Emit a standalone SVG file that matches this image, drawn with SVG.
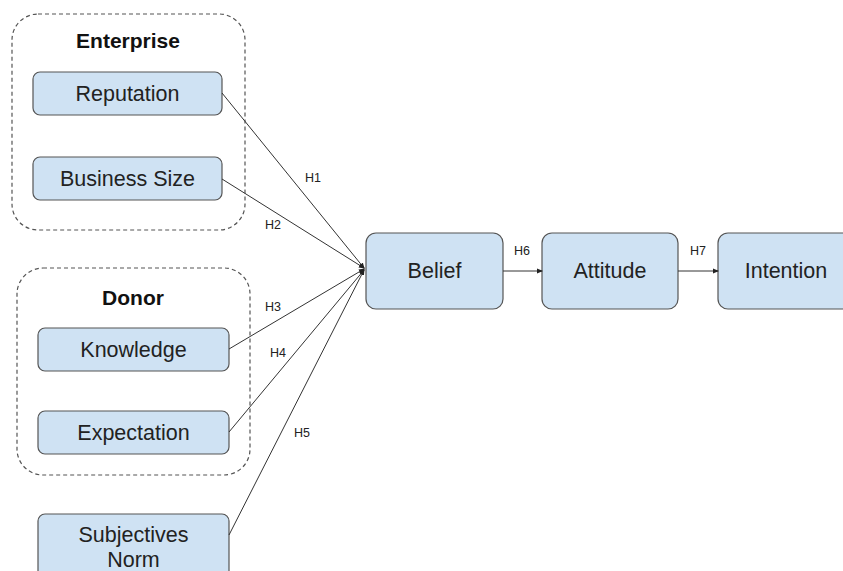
<svg xmlns="http://www.w3.org/2000/svg" width="843" height="571" viewBox="0 0 843 571">
<defs>
<marker id="ah" markerWidth="6" markerHeight="6" refX="5" refY="3" orient="auto" markerUnits="userSpaceOnUse">
<path d="M0,0.5 L6,3 L0,5.5 Z" fill="#222"/>
</marker>
<style>
.grp{fill:none;stroke:#555;stroke-width:1.2;stroke-dasharray:4,3}
.box{fill:#cfe2f3;stroke:#555;stroke-width:1.2}
.t{font-family:"Liberation Sans",Arial,sans-serif;font-size:21.5px;fill:#222;text-anchor:middle}
.g{font-family:"Liberation Sans",Arial,sans-serif;font-size:21px;font-weight:bold;fill:#111;text-anchor:middle}
.h{font-family:"Liberation Sans",Arial,sans-serif;font-size:12.5px;fill:#222;text-anchor:middle}
.c{stroke:#333;stroke-width:1;fill:none;marker-end:url(#ah)}
</style>
</defs>
<rect width="843" height="571" fill="#fff"/>
<g id="enterprise">
<rect class="grp" x="12" y="14" width="233" height="216" rx="26"/>
<text class="g" x="128" y="48">Enterprise</text>
</g>
<g id="donor">
<rect class="grp" x="17" y="268" width="233" height="207" rx="26"/>
<text class="g" x="133" y="305">Donor</text>
</g>
<g id="reputation">
<rect class="box" x="33" y="72" width="189" height="43" rx="7"/>
<text class="t" x="127.5" y="101">Reputation</text>
</g>
<g id="business-size">
<rect class="box" x="33" y="157" width="189" height="43" rx="7"/>
<text class="t" x="127.5" y="186">Business Size</text>
</g>
<g id="knowledge">
<rect class="box" x="38" y="328" width="191" height="43" rx="7"/>
<text class="t" x="133.5" y="357">Knowledge</text>
</g>
<g id="expectation">
<rect class="box" x="38" y="411" width="191" height="43" rx="7"/>
<text class="t" x="133.5" y="440">Expectation</text>
</g>
<g id="subjectives-norm">
<rect class="box" x="38" y="514" width="191" height="70" rx="7"/>
<text class="t" x="133.5" y="542">Subjectives</text>
<text class="t" x="133.5" y="567">Norm</text>
</g>
<g id="belief">
<rect class="box" x="366" y="233" width="137" height="76" rx="10"/>
<text class="t" x="434.5" y="278">Belief</text>
</g>
<g id="attitude">
<rect class="box" x="542" y="233" width="136" height="76" rx="10"/>
<text class="t" x="610" y="278">Attitude</text>
</g>
<g id="intention">
<rect class="box" x="718" y="233" width="136" height="76" rx="10"/>
<text class="t" x="786" y="278">Intention</text>
</g>
<g id="connectors">
<line class="c" x1="222" y1="93" x2="364" y2="268"/>
<line class="c" x1="222" y1="179" x2="364" y2="268"/>
<line class="c" x1="229" y1="349" x2="364" y2="269"/>
<line class="c" x1="229" y1="432" x2="364" y2="270"/>
<line class="c" x1="229" y1="535" x2="364" y2="270"/>
<line class="c" x1="503" y1="271" x2="542" y2="271"/>
<line class="c" x1="678" y1="271" x2="718" y2="271"/>
<text class="h" x="313" y="182">H1</text>
<text class="h" x="273" y="229">H2</text>
<text class="h" x="273" y="311">H3</text>
<text class="h" x="278" y="357">H4</text>
<text class="h" x="302" y="437">H5</text>
<text class="h" x="522" y="255">H6</text>
<text class="h" x="698" y="255">H7</text>
</g>
</svg>
